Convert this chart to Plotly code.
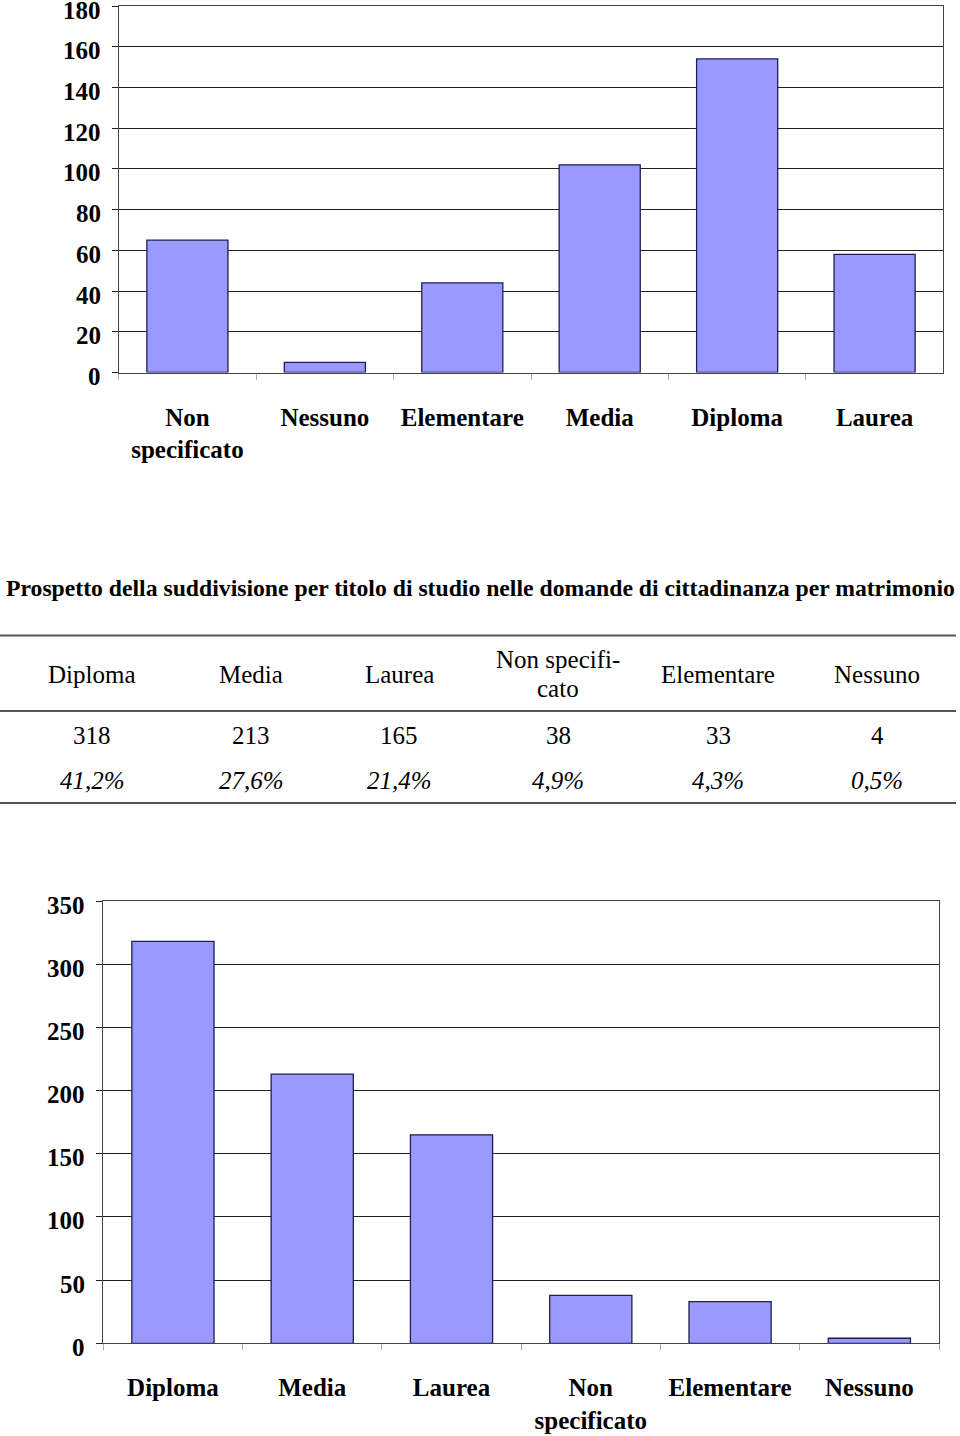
import plotly.graph_objects as go

W, H = 960, 1436

# ---------------- data ----------------
top_categories = ["Non<br>specificato", "Nessuno", "Elementare", "Media", "Diploma", "Laurea"]
top_values = [65, 5, 44, 102, 154, 58]
top_ticks = [0, 20, 40, 60, 80, 100, 120, 140, 160, 180]

table_title = "Prospetto della suddivisione per titolo di studio nelle domande di cittadinanza per matrimonio"
table_headers = ["Diploma", "Media", "Laurea", "Non specifi-<br>cato", "Elementare", "Nessuno"]
table_counts = [318, 213, 165, 38, 33, 4]
table_percents = ["41,2%", "27,6%", "21,4%", "4,9%", "4,3%", "0,5%"]

bottom_categories = ["Diploma", "Media", "Laurea", "Non<br>specificato", "Elementare", "Nessuno"]
bottom_values = [318, 213, 165, 38, 33, 4]
bottom_ticks = [0, 50, 100, 150, 200, 250, 300, 350]

# ---------------- layout helpers ----------------
FONT = "Liberation Serif"
BAR_FILL = "#9999FF"
BAR_LINE = "#1E1E50"
GRID = "#222222"


def px_x(x):
    return x / W


def px_y(y):
    return 1 - y / H


fig = go.Figure()

fig.add_trace(go.Bar(
    x=top_categories, y=top_values, xaxis="x", yaxis="y",
    marker=dict(color=BAR_FILL, line=dict(color=BAR_LINE, width=1.3)),
    width=0.59, hoverinfo="skip", showlegend=False,
))
fig.add_trace(go.Bar(
    x=bottom_categories, y=bottom_values, xaxis="x2", yaxis="y2",
    marker=dict(color=BAR_FILL, line=dict(color=BAR_LINE, width=1.3)),
    width=0.59, hoverinfo="skip", showlegend=False,
))

xcommon = dict(
    type="category", showgrid=False, showline=True, linecolor="#444", linewidth=1.3,
    mirror=True, ticks="outside", tickson="boundaries", ticklen=6, tickcolor="#aaa",
    tickwidth=1, tickfont=dict(family=FONT, size=25, color="black", weight="bold"),
    ticklabelstandoff=22, automargin=False, fixedrange=True,
)
ycommon = dict(
    showgrid=True, gridcolor=GRID, gridwidth=1.3, showline=True, linecolor="#444",
    linewidth=1.3, mirror=True, ticks="outside", ticklen=6, tickcolor=GRID, tickwidth=1.3,
    zeroline=False, showticklabels=False, automargin=False, fixedrange=True,
)

fig.update_layout(
    width=W, height=H,
    margin=dict(l=0, r=0, t=0, b=0),
    paper_bgcolor="white", plot_bgcolor="white",
    font=dict(family=FONT, color="black"),
    xaxis=dict(xcommon, domain=[px_x(118.7), px_x(943.3)], anchor="y"),
    yaxis=dict(ycommon, domain=[px_y(372.5), px_y(6)], range=[0, 180],
               tickvals=top_ticks, anchor="x"),
    xaxis2=dict(xcommon, domain=[px_x(103.3), px_x(939)], anchor="y2"),
    yaxis2=dict(ycommon, domain=[px_y(1343.3), px_y(901)], range=[0, 350],
                tickvals=bottom_ticks, anchor="x2"),
)

# y tick labels (sit slightly below their gridline, as in the original)
for ticks, yref, right_px in ((top_ticks, "y", 102.5), (bottom_ticks, "y2", 87.0)):
    for v in ticks:
        fig.add_annotation(text=str(v), xref="paper", x=px_x(right_px), xanchor="right",
                           yref=yref, y=v, yanchor="middle", yshift=-4, showarrow=False,
                           font=dict(family=FONT, size=25, color="black", weight="bold"))

# ---------------- table (annotations + rules) ----------------
col_x = [92, 251, 399, 558, 718, 877]

fig.add_annotation(
    text="<b>" + table_title + "</b>", x=px_x(480), y=px_y(588),
    xref="paper", yref="paper", showarrow=False, xanchor="center", yanchor="middle",
    font=dict(family=FONT, size=23.7, color="black"),
)

for yy in (635.5, 711, 803):
    fig.add_shape(type="line", xref="paper", yref="paper",
                  x0=0, x1=px_x(956), y0=px_y(yy), y1=px_y(yy),
                  line=dict(color="#555", width=2))


def ann(text, cx, cy, italic=False):
    fig.add_annotation(text=("<i>" + text + "</i>") if italic else text,
                       x=px_x(cx), y=px_y(cy), xref="paper", yref="paper",
                       showarrow=False, xanchor="center", yanchor="middle",
                       font=dict(family=FONT, size=25, color="black"))


for cx, head, cnt, pct in zip(col_x, table_headers, table_counts, table_percents):
    lines = head.split("<br>")
    if len(lines) == 1:
        ann(lines[0], cx, 674)
    else:
        ann(lines[0], cx, 660)
        ann(lines[1], cx, 688)
    ann(str(cnt), cx, 735)
    ann(pct, cx, 780.5, italic=True)

fig.write_html("out.html")
